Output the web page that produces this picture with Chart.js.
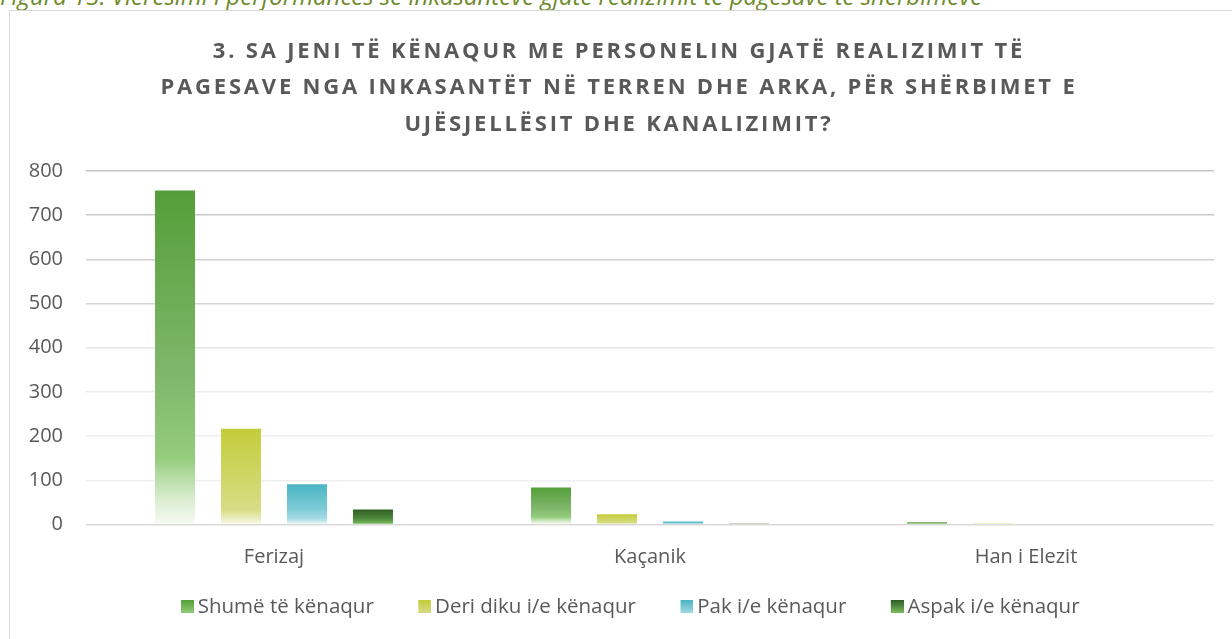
<!DOCTYPE html>
<html>
<head>
<meta charset="utf-8">
<script src="https://cdn.jsdelivr.net/npm/chart.js@4.4.0/dist/chart.umd.min.js"></script>
<style>
  body { margin: 0; background: #fff; overflow: hidden; }
  #caption { position: absolute; left: 0; top: -16px; font: italic 24px "Open Sans"; line-height: 24px; color: #6f8a2a; white-space: nowrap; }
  #frame { position: absolute; left: 9px; top: 10px; width: 1300px; height: 700px; border: 1.3px solid #d9d9d9; }
  #wrap { position: absolute; left: 0; top: 0; width: 1232px; height: 639px; }
</style>
</head>
<body>
<div id="caption">Figura 13: Vlerësimi i performancës së inkasantëve gjatë realizimit të pagesave të shërbimeve</div>
<div id="frame"></div>
<div id="wrap"><canvas id="chart"></canvas></div>
<script>
// data
var categories = ['Ferizaj', 'Kaçanik', 'Han i Elezit'];
var seriesNames = ['Shumë të kënaqur', 'Deri diku i/e kënaqur', 'Pak i/e kënaqur', 'Aspak i/e kënaqur'];
var shumeKenaqur = [756, 84, 5];
var deriDiku = [217, 23, 1];
var pakKenaqur = [91, 7, 0];
var aspakKenaqur = [34, 2, 0];
var titleLines = [
  '3. SA JENI TË KËNAQUR ME PERSONELIN GJATË REALIZIMIT TË',
  'PAGESAVE NGA INKASANTËT NË TERREN DHE ARKA, PËR SHËRBIMET E',
  'UJËSJELLËSIT DHE KANALIZIMIT?'
];

// gradient stops per series (top of bar -> bottom of bar)
var greenStops = [[0, '#549e39'], [0.55, '#7fb76a'], [0.8, '#94cd7c'], [0.92, '#d8ecce'], [1, '#f6fbf3']];
var limeStops = [[0, '#c3cd3a'], [0.6, '#d1d86e'], [0.85, '#d8dd86'], [1, '#f8f9ea']];
var tealStops = [[0, '#4ab5c4'], [0.6, '#7ccbd6'], [0.85, '#a6dbe3'], [1, '#eef8fa']];
var darkStops = [[0, '#2f5d26'], [0.6, '#4f8a3c'], [1, '#7cc060']];

var gridShades = ['#dadada', '#efefef', '#efefef', '#ececec', '#e6e6e6', '#d4d4d4', '#d0d0d0', '#c9c9c9', '#c6c6c6'];

function barGradient(stops) {
  return function(context) {
    var chart = context.chart;
    if (!chart.chartArea || context.type !== 'data') return stops[0][1];
    var y = chart.scales.y;
    var top = y.getPixelForValue(context.parsed.y);
    var bottom = y.getPixelForValue(0);
    if (bottom - top < 0.5) top = bottom - 0.5;
    var g = chart.ctx.createLinearGradient(0, top, 0, bottom);
    stops.forEach(function(s) { g.addColorStop(s[0], s[1]); });
    return g;
  };
}

function legendSwatch(stops) {
  var c = document.createElement('canvas');
  c.width = 54;
  c.height = 13;
  var x = c.getContext('2d');
  var g = x.createLinearGradient(0, 0, 0, 13);
  g.addColorStop(0, stops[0][1]);
  g.addColorStop(1, stops[2][1]);
  x.fillStyle = g;
  x.fillRect(41, 0, 13, 13);
  return c;
}

function makeSet(label, data, stops) {
  return {
    label: label,
    data: data,
    backgroundColor: barGradient(stops),
    pointStyle: legendSwatch(stops),
    borderWidth: 0,
    barPercentage: 0.606,
    categoryPercentage: 0.702
  };
}

// letter spacing for the title, Chart.js has no option for it
var titleSpacing = {
  id: 'titleSpacing',
  beforeDraw: function(chart) {
    var t = chart.titleBlock;
    if (t && !t._spaced) {
      var draw = t.draw;
      t.draw = function() {
        this.ctx.save();
        this.ctx.letterSpacing = '2.8px';
        this.ctx.translate(6, 0);
        draw.apply(this, arguments);
        this.ctx.restore();
      };
      t._spaced = true;
    }
  }
};

new Chart(document.getElementById('chart'), {
  type: 'bar',
  data: {
    labels: categories,
    datasets: [
      makeSet(seriesNames[0], shumeKenaqur, greenStops),
      makeSet(seriesNames[1], deriDiku, limeStops),
      makeSet(seriesNames[2], pakKenaqur, tealStops),
      makeSet(seriesNames[3], aspakKenaqur, darkStops)
    ]
  },
  plugins: [titleSpacing],
  options: {
    responsive: true,
    maintainAspectRatio: false,
    animation: false,
    layout: { padding: { left: 12, right: 18, top: 13, bottom: 12 } },
    plugins: {
      title: {
        display: true,
        text: titleLines,
        color: '#595959',
        font: { family: 'Open Sans', size: 22, weight: 'bold', lineHeight: 1.66 },
        padding: { top: 20, bottom: 28.5 }
      },
      legend: {
        position: 'bottom',
        labels: {
          usePointStyle: true,
          pointStyleWidth: 41,
          padding: 10,
          color: '#595959',
          font: { family: 'Open Sans', size: 20.5 }
        }
      },
      tooltip: { enabled: false }
    },
    scales: {
      x: {
        grid: { display: false },
        border: { display: false },
        ticks: { color: '#595959', padding: 13, font: { family: 'Open Sans', size: 20 } },
        afterFit: function(s) { s.height = 62; }
      },
      y: {
        min: 0,
        max: 800,
        ticks: { stepSize: 100, color: '#595959', padding: 23, font: { family: 'Open Sans', size: 20 } },
        grid: {
          color: function(c) { return gridShades[c.index]; },
          lineWidth: 1.5,
          drawTicks: false
        },
        border: { display: false },
        afterFit: function(s) { s.width = 74; }
      }
    }
  }
});
</script>
</body>
</html>
